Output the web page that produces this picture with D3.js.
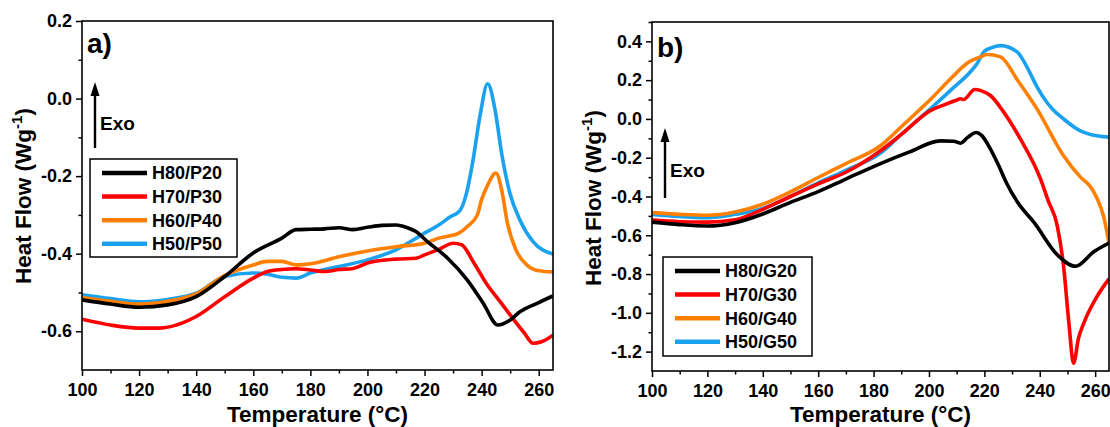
<!DOCTYPE html>
<html>
<head>
<meta charset="utf-8">
<script src="https://cdn.jsdelivr.net/npm/d3@7"></script>
<style>
  body { margin: 0; background: #fff; }
  svg { display: block; font-family: "Liberation Sans", Arial, sans-serif; font-weight: bold; }
</style>
</head>
<body>
<script>
// DSC curves, [temperature °C, heat flow W/g]
var names_a = ["H80/P20", "H70/P30", "H60/P40", "H50/P50"];
var names_b = ["H80/G20", "H70/G30", "H60/G40", "H50/G50"];
var colors = ["#000000", "#ff0000", "#ff8000", "#1aa1ef"];

var a_H80 = [[100,-0.519],[110,-0.530],[120,-0.538],[130,-0.532],[140,-0.511],[150,-0.459],[160,-0.398],[170,-0.360],[175,-0.338],[180,-0.337],[185,-0.336],[190,-0.333],[195,-0.338],[200,-0.332],[205,-0.327],[210,-0.326],[214,-0.333],[217,-0.343],[221,-0.369],[228,-0.411],[235,-0.468],[240.5,-0.527],[245.7,-0.584],[250,-0.571],[253.4,-0.550],[259.4,-0.528],[265,-0.509]];
var a_H70 = [[100,-0.569],[110,-0.584],[120,-0.592],[127,-0.592],[135,-0.579],[140,-0.562],[150,-0.511],[160,-0.463],[165,-0.446],[170,-0.441],[175,-0.439],[180,-0.442],[185,-0.446],[190,-0.441],[195,-0.438],[200,-0.424],[210,-0.414],[217,-0.412],[220,-0.403],[225,-0.389],[230,-0.373],[233,-0.377],[237,-0.420],[242,-0.481],[246,-0.519],[250,-0.558],[255,-0.605],[258,-0.631],[261,-0.627],[265,-0.610]];
var a_H60 = [[100,-0.513],[110,-0.523],[120,-0.530],[130,-0.523],[140,-0.504],[150,-0.456],[160,-0.429],[165,-0.420],[170,-0.420],[175,-0.429],[180,-0.426],[190,-0.408],[200,-0.393],[210,-0.382],[220,-0.373],[225,-0.360],[232,-0.347],[235,-0.330],[238.5,-0.300],[240,-0.260],[242,-0.225],[245,-0.192],[247,-0.235],[249,-0.320],[252,-0.390],[256,-0.430],[260,-0.444],[265,-0.447]];
var a_H50 = [[100,-0.506],[110,-0.516],[120,-0.524],[130,-0.518],[140,-0.502],[150,-0.459],[160,-0.450],[165,-0.453],[170,-0.461],[175,-0.463],[180,-0.450],[190,-0.433],[200,-0.416],[210,-0.390],[220,-0.347],[225,-0.326],[229,-0.305],[232.4,-0.289],[234.7,-0.244],[237,-0.158],[239.4,-0.046],[242.1,0.038],[244.7,-0.029],[247,-0.141],[249.9,-0.244],[253.4,-0.313],[258,-0.369],[265,-0.401]];

var b_H80 = [[100,-0.532],[110,-0.545],[120,-0.552],[130,-0.535],[140,-0.490],[150,-0.430],[160,-0.375],[170,-0.310],[182.5,-0.230],[193,-0.170],[204,-0.113],[209,-0.115],[211.3,-0.125],[214,-0.095],[217,-0.070],[219,-0.085],[222,-0.150],[225,-0.235],[228,-0.330],[232,-0.430],[238,-0.535],[246.3,-0.700],[252.9,-0.760],[259.5,-0.685],[265,-0.640]];
var b_H70 = [[100,-0.522],[110,-0.530],[120,-0.532],[130,-0.520],[140,-0.466],[150,-0.400],[160,-0.335],[170,-0.275],[182.5,-0.164],[190,-0.080],[200.5,0.043],[205,0.070],[209.6,0.095],[211.4,0.104],[212.5,0.100],[216.5,0.152],[219,0.145],[222.2,0.121],[227,0.035],[233,-0.103],[240.3,-0.310],[243,-0.420],[246.3,-0.550],[248.6,-0.760],[250.5,-1.050],[252.2,-1.260],[254,-1.130],[255.9,-1.053],[260.7,-0.915],[265,-0.825]];
var b_H60 = [[100,-0.483],[110,-0.492],[120,-0.497],[130,-0.480],[140,-0.440],[150,-0.376],[160,-0.302],[170,-0.230],[182.5,-0.138],[190,-0.040],[200.5,0.100],[208,0.210],[214,0.290],[218.6,0.320],[221,0.332],[225.8,0.320],[232,0.200],[239,0.052],[248.6,-0.190],[254.7,-0.300],[258.3,-0.350],[260.7,-0.410],[263,-0.500],[265,-0.640]];
var b_H50 = [[100,-0.492],[110,-0.503],[120,-0.509],[130,-0.492],[140,-0.462],[150,-0.400],[160,-0.330],[170,-0.265],[182.5,-0.176],[190,-0.080],[200.5,0.052],[208,0.150],[214.9,0.242],[217.4,0.286],[219.8,0.346],[222.2,0.365],[225.8,0.378],[231.8,0.346],[236.6,0.234],[239,0.165],[242.6,0.085],[245,0.045],[248.6,0.000],[254.7,-0.062],[258.3,-0.080],[265,-0.094]];

var xTicks = [100, 120, 140, 160, 180, 200, 220, 240, 260];
var xMinor = [110, 130, 150, 170, 190, 210, 230, 250];
var yTicks_a = [0.2, 0.0, -0.2, -0.4, -0.6];
var yMinor_a = [0.1, -0.1, -0.3, -0.5];
var yTicks_b = [0.4, 0.2, 0.0, -0.2, -0.4, -0.6, -0.8, -1.0, -1.2];
var yMinor_b = [0.5, 0.3, 0.1, -0.1, -0.3, -0.5, -0.7, -0.9, -1.1];

var svg = d3.select("body").append("svg")
    .attr("width", 1110)
    .attr("height", 427);

var defs = svg.append("defs");

var drawPanel = function(p) {
  var x = d3.scaleLinear().domain([100, 265]).range([p.left, p.right]);
  var y = d3.scaleLinear().domain(p.yDomain).range([p.bottom, p.top]);

  defs.append("clipPath").attr("id", "clip" + p.id)
    .append("rect")
    .attr("x", p.left).attr("y", p.top)
    .attr("width", p.right - p.left).attr("height", p.bottom - p.top);

  var line = d3.line()
    .x(function(d) { return x(d[0]); })
    .y(function(d) { return y(d[1]); })
    .curve(d3.curveMonotoneX);

  // curves, black drawn last so it sits on top like the original
  var order = [3, 2, 1, 0];
  svg.append("g").attr("clip-path", "url(#clip" + p.id + ")")
    .selectAll("path")
    .data(order)
    .enter()
    .append("path")
    .attr("d", function(i) { return line(p.series[i]); })
    .attr("fill", "none")
    .attr("stroke", function(i) { return colors[i]; })
    .attr("stroke-width", 3.6)
    .attr("stroke-linejoin", "round");

  // frame
  svg.append("rect")
    .attr("x", p.left).attr("y", p.top)
    .attr("width", p.right - p.left).attr("height", p.bottom - p.top)
    .attr("fill", "none").attr("stroke", "#000").attr("stroke-width", 1.6);

  var fmt = function(d) { return d.toFixed(1); };

  var gx = svg.append("g").attr("transform", "translate(0," + p.bottom + ")");
  gx.call(d3.axisBottom(x).tickValues(xTicks).tickSize(6).tickPadding(7));
  gx.append("g").call(d3.axisBottom(x).tickValues(xMinor).tickSize(3.5).tickFormat(""));

  var gy = svg.append("g").attr("transform", "translate(" + p.left + ",0)");
  gy.call(d3.axisLeft(y).tickValues(p.yTicks).tickFormat(fmt).tickSize(6).tickPadding(4));
  gy.append("g").call(d3.axisLeft(y).tickValues(p.yMinor).tickSize(3.5).tickFormat(""));

  svg.selectAll(".domain").remove();
  svg.selectAll(".tick line").attr("stroke", "#000").attr("stroke-width", 1.5);
  svg.selectAll(".tick text")
    .attr("fill", "#000")
    .style("font-size", "18px")
    .style("font-family", "'Liberation Sans', Arial, sans-serif")
    .style("font-weight", "bold");

  // axis titles
  svg.append("text")
    .attr("x", (p.left + p.right) / 2).attr("y", 422)
    .attr("text-anchor", "middle")
    .style("font-size", "22.5px")
    .text("Temperature (°C)");

  var yt = svg.append("text")
    .attr("transform", "translate(" + p.yTitleX + "," + p.yTitleY + ") rotate(-90)")
    .attr("text-anchor", "middle")
    .style("font-size", "22.5px");
  yt.append("tspan").text("Heat Flow (Wg");
  yt.append("tspan").attr("dy", -9).style("font-size", "15px").text("-1");
  yt.append("tspan").attr("dy", 9).text(")");

  // panel letter
  svg.append("text")
    .attr("x", p.left + 5).attr("y", p.letterY)
    .style("font-size", "28px")
    .text(p.letter);

  // Exo arrow
  svg.append("line")
    .attr("x1", p.arrowX).attr("x2", p.arrowX)
    .attr("y1", p.arrowBottom).attr("y2", p.arrowTip + 10)
    .attr("stroke", "#000").attr("stroke-width", 2.4);
  svg.append("path")
    .attr("d", "M" + p.arrowX + "," + p.arrowTip +
      " L" + (p.arrowX - 4.5) + "," + (p.arrowTip + 14) +
      " L" + (p.arrowX + 4.5) + "," + (p.arrowTip + 14) + " Z")
    .attr("fill", "#000");
  svg.append("text")
    .attr("x", p.arrowX + 5).attr("y", p.exoY)
    .style("font-size", "19px")
    .text("Exo");

  // legend
  var lg = svg.append("g");
  lg.append("rect")
    .attr("x", p.legX).attr("y", p.legY)
    .attr("width", p.legW).attr("height", p.legH)
    .attr("fill", "#fff").attr("stroke", "#000").attr("stroke-width", 1.5);
  var items = lg.selectAll("g.item")
    .data(p.names)
    .enter()
    .append("g")
    .attr("class", "item")
    .attr("transform", function(d, i) {
      return "translate(" + p.legX + "," + (p.legY + 14 + i * 23.6) + ")";
    });
  items.append("line")
    .attr("x1", 12).attr("x2", 57)
    .attr("stroke", function(d, i) { return colors[i]; })
    .attr("stroke-width", 4.5);
  items.append("text")
    .attr("x", 62).attr("dy", "0.36em")
    .style("font-size", "18px")
    .text(function(d) { return d; });
};

drawPanel({
  id: "a", letter: "a)",
  left: 82, right: 553, top: 21, bottom: 370,
  yDomain: [-0.7, 0.2], yTicks: yTicks_a, yMinor: yMinor_a,
  series: [a_H80, a_H70, a_H60, a_H50], names: names_a,
  yTitleX: 31, yTitleY: 196, letterY: 53,
  arrowX: 95, arrowTip: 82, arrowBottom: 148, exoY: 130,
  legX: 90, legY: 159, legW: 147, legH: 98
});

drawPanel({
  id: "b", letter: "b)",
  left: 652, right: 1109, top: 22, bottom: 371,
  yDomain: [-1.3, 0.5], yTicks: yTicks_b, yMinor: yMinor_b,
  series: [b_H80, b_H70, b_H60, b_H50], names: names_b,
  yTitleX: 601, yTitleY: 198, letterY: 57,
  arrowX: 665, arrowTip: 128, arrowBottom: 198, exoY: 177,
  legX: 663, legY: 257, legW: 149, legH: 99
});
</script>
</body>
</html>
